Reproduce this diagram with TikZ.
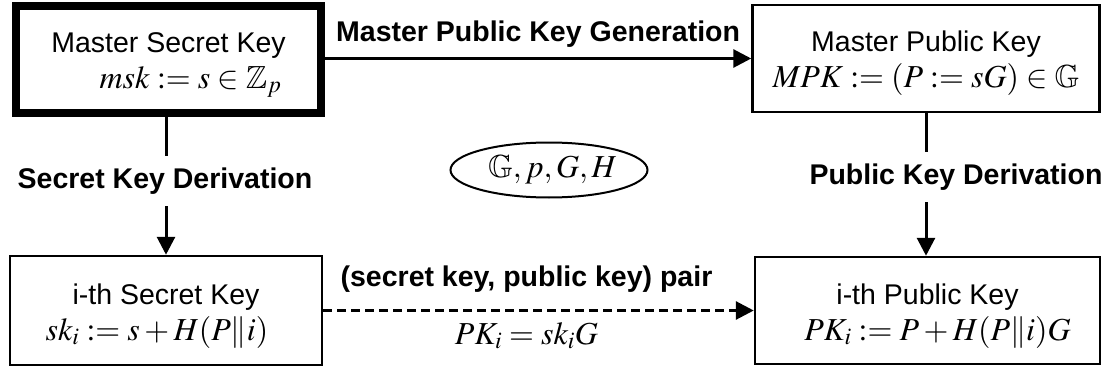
\documentclass[tikz,border=0pt]{standalone}
\usepackage{mathptmx}
\usepackage{amssymb}
\usepackage{fontspec}
\setmainfont{Liberation Sans}
\usetikzlibrary{arrows.meta,shapes.geometric}
\newcommand{\keymath}[1]{{\fontsize{32}{36}\selectfont$#1$}}
\newcommand{\topstrut}{\rule{0pt}{31pt}}
\begin{document}
\begin{tikzpicture}[x=1pt,y=-1pt,
  every node/.style={font=\fontsize{28.5}{36}\selectfont},
  keybox/.style={draw, line width=2.5pt, align=center, inner sep=0pt},
  arr/.style={line width=3pt, -{Triangle[length=18pt,width=18pt]}},
  link/.style={line width=3pt},
  lbl/.style={font=\fontsize{28.5}{36}\selectfont\bfseries},
  pairdash/.style={dash pattern=on 9pt off 5pt}
]
\useasboundingbox (0,0) rectangle (1103,369);

\node[keybox, line width=8pt, minimum width=305pt, minimum height=107pt] (msk) at (168.5,59.5)
  {\topstrut Master Secret Key\\\hspace*{44pt}\keymath{msk := s \in \mathbb{Z}_p}};
\node[keybox, minimum width=347pt, minimum height=107pt] (mpk) at (926,58.5)
  {\topstrut Master Public Key\\\keymath{MPK := (P := sG) \in \mathbb{G}}};
\node[keybox, minimum width=312pt, minimum height=109pt] (sk) at (166,310.5)
  {\topstrut i-th Secret Key\\\keymath{sk_i := s + H(P\|i)}\hspace*{18pt}};
\node[keybox, minimum width=345pt, minimum height=107pt] (pk) at (927.5,310.5)
  {\topstrut i-th Public Key\\\hspace*{20pt}\keymath{PK_i := P + H(P\|i)G}};

\node[ellipse, draw, line width=2pt, minimum width=197pt, minimum height=55pt, inner sep=0pt] (par) at (549,170)
  {\hspace*{7pt}\keymath{\mathbb{G}, p, G, H}};

\node[lbl, inner xsep=2pt, inner ysep=12pt] (skd) at (165,181) {Secret Key Derivation};
\node[lbl, inner xsep=2pt, inner ysep=12pt] (pkd) at (956,177) {Public Key Derivation};

\draw[link] (sk.north |- msk.south) -- (sk.north |- skd.north);
\draw[arr] (sk.north |- skd.south) -- (sk.north);
\draw[link] (mpk.south) -- (mpk.south |- pkd.north);
\draw[arr] (mpk.south |- pkd.south) -- (mpk.south |- pk.north);

\draw[arr] (msk.east |- mpk.west) -- (mpk.west)
  node[lbl, midway, above=10pt, inner sep=0pt] (gen) {Master Public Key Generation};
\draw[arr, pairdash] (sk.east) -- (pk.west)
  node[lbl, midway, above=17pt, inner sep=0pt, xshift=-12pt] (pair) {(secret key, public key) pair}
  node[midway, below=10pt, inner sep=0pt, xshift=-12pt] (rel) {\keymath{PK_i = sk_iG}};
\end{tikzpicture}
\end{document}
